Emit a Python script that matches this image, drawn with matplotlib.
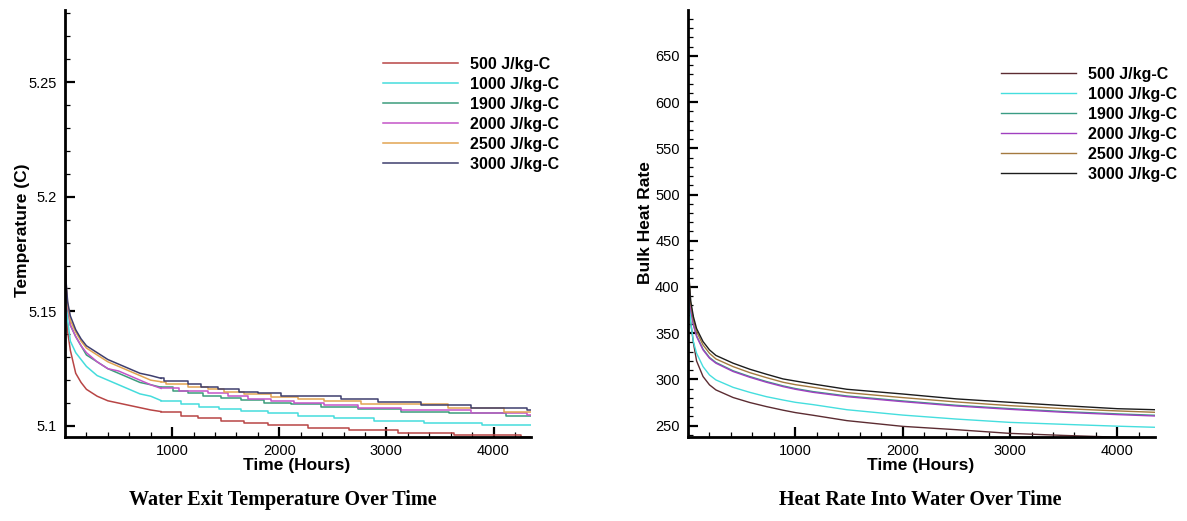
import matplotlib
matplotlib.use("Agg")
import matplotlib.pyplot as plt
from matplotlib.ticker import MultipleLocator, FixedLocator, FixedFormatter

# ---- left panel: water exit temperature (stepped output) ----
labels = ["500 J/kg-C", "1000 J/kg-C", "1900 J/kg-C", "2000 J/kg-C", "2500 J/kg-C", "3000 J/kg-C"]

early_hours = [0, 10, 25, 50, 100, 150, 200, 300, 400, 500, 600, 700, 800]

t500_early = [5.172, 5.154, 5.141, 5.133, 5.123, 5.119, 5.116, 5.113, 5.111, 5.110, 5.109, 5.108, 5.107]
t1000_early = [5.172, 5.157, 5.146, 5.137, 5.132, 5.129, 5.126, 5.122, 5.120, 5.118, 5.116, 5.114, 5.113]
t1900_early = [5.172, 5.161, 5.152, 5.144, 5.139, 5.135, 5.131, 5.128, 5.125, 5.123, 5.121, 5.119, 5.118]
t2000_early = [5.172, 5.161, 5.152, 5.144, 5.139, 5.135, 5.132, 5.128, 5.125, 5.124, 5.122, 5.120, 5.118]
t2500_early = [5.172, 5.162, 5.153, 5.146, 5.141, 5.137, 5.134, 5.131, 5.128, 5.126, 5.124, 5.122, 5.120]
t3000_early = [5.172, 5.163, 5.154, 5.148, 5.142, 5.138, 5.135, 5.132, 5.129, 5.127, 5.125, 5.123, 5.122]

# later steps: hour where the value changes, and the new value
h500_late = [897, 1084, 1239, 1457, 1675, 1892, 2265, 2654, 3104, 3633, 4255]
t500_late = [5.1063, 5.1044, 5.1034, 5.1022, 5.1012, 5.1004, 5.0993, 5.0983, 5.0971, 5.0961, 5.0950]
h1000_late = [897, 1084, 1255, 1441, 1643, 1892, 2172, 2514, 2887, 3353, 3897]
t1000_late = [5.1111, 5.1095, 5.1082, 5.1073, 5.1064, 5.1055, 5.1044, 5.1035, 5.1023, 5.1015, 5.1003]
h1900_late = [897, 1006, 1146, 1286, 1457, 1643, 1861, 2110, 2389, 2731, 3136, 3586, 4115]
t1900_late = [5.1169, 5.1153, 5.1143, 5.1132, 5.1124, 5.1113, 5.1102, 5.1095, 5.1084, 5.1073, 5.1062, 5.1055, 5.1044]
h2000_late = [897, 1068, 1333, 1519, 1706, 1923, 2141, 2421, 2731, 3136, 3788, 4317]
t2000_late = [5.1164, 5.1153, 5.1143, 5.1131, 5.1119, 5.1109, 5.1102, 5.1090, 5.1077, 5.1070, 5.1058, 5.1048]
h2500_late = [897, 944, 1146, 1333, 1488, 1675, 1923, 2172, 2421, 2763, 3571, 4099]
t2500_late = [5.1193, 5.1183, 5.1172, 5.1160, 5.1150, 5.1140, 5.1128, 5.1118, 5.1108, 5.1097, 5.1080, 5.1063]
h3000_late = [897, 928, 1146, 1270, 1426, 1628, 1799, 2016, 2576, 2918, 3322, 3788, 4317]
t3000_late = [5.1208, 5.1196, 5.1182, 5.1172, 5.1160, 5.1150, 5.1142, 5.1132, 5.1116, 5.1106, 5.1092, 5.1080, 5.1070]

end_hour = 4350

# ---- right panel: bulk heat rate (smooth) ----
hours_r = [0, 10, 25, 50, 80, 140, 200, 260, 420, 575, 730, 885, 1000, 1165, 1480, 2000, 2500, 3000, 3500, 4000, 4350]
q500 = [430, 385, 362, 340, 320, 303.2, 294.2, 288.7, 280.5, 275.1, 270.7, 266.8, 264.2, 261.3, 255.5, 249.3, 245.7, 241.7, 239.5, 237.6, 236.5]
q1000 = [430, 395, 362, 341, 328.3, 313.9, 304.9, 299.5, 291.5, 286.1, 281.4, 277.8, 275.3, 272.8, 267.3, 261.5, 257.2, 253.6, 251.5, 249.5, 248.3]
q1900 = [430, 405.5, 377, 360, 347.2, 332.8, 323.8, 318.4, 309.4, 303.2, 297.8, 293.1, 290.2, 286.9, 282.2, 276.8, 272.1, 268.5, 265.3, 262.8, 261.3]
q2000 = [430, 405, 376, 359, 346.4, 332, 323, 317.6, 308.6, 302.4, 297, 292.3, 289.4, 286.1, 281.4, 276, 271.3, 267.7, 264.5, 262, 260.5]
q2500 = [430, 408, 382, 364.5, 351.8, 337.3, 328.3, 322.2, 313.9, 307.4, 302, 297, 294.4, 291.5, 285.8, 280.4, 275.7, 271.7, 268.5, 266, 264.5]
q3000 = [430, 410, 385, 368, 355, 341, 332, 326, 317.6, 311.1, 305.7, 300.6, 298.3, 295.1, 289.4, 284.3, 279, 275.3, 271.7, 268.4, 267.3]

colors_left = ["#b84545", "#45dcdc", "#3c9c7c", "#c455c8", "#e2a452", "#3e3e6e"]
colors_right = ["#5c2c32", "#45dede", "#3a9c84", "#a040c0", "#a47a40", "#1c1c1c"]

plt.rcParams["font.family"] = ["Liberation Sans", "DejaVu Sans"]

fig = plt.figure(figsize=(11.87, 5.21), dpi=100)
ax1 = fig.add_axes([65 / 1187, 1 - 437 / 521, 466 / 1187, 427 / 521])
ax2 = fig.add_axes([688 / 1187, 1 - 437 / 521, 467 / 1187, 427 / 521])

left_series = [
    (t500_early, h500_late, t500_late),
    (t1000_early, h1000_late, t1000_late),
    (t1900_early, h1900_late, t1900_late),
    (t2000_early, h2000_late, t2000_late),
    (t2500_early, h2500_late, t2500_late),
    (t3000_early, h3000_late, t3000_late),
]
for (te, hl, tl), c, lab in zip(left_series, colors_left, labels):
    # dense early part drawn as a line, later plateaus as steps
    ax1.plot(early_hours + hl[:1], te + tl[:1], color=c, lw=1.1)
    ax1.plot(hl + [end_hour], tl + [tl[-1]], color=c, lw=1.1,
             drawstyle="steps-post", label=lab)

for q, c, lab in zip([q500, q1000, q1900, q2000, q2500, q3000], colors_right, labels):
    ax2.plot(hours_r, q, color=c, lw=1.0, label=lab)

ax1.set_xlim(0, 4350)
ax1.set_ylim(5.0952, 5.2815)
ax2.set_xlim(0, 4350)
ax2.set_ylim(237.8, 699.5)

for ax in (ax1, ax2):
    for s in ("top", "right"):
        ax.spines[s].set_visible(False)
    for s in ("left", "bottom"):
        ax.spines[s].set_linewidth(2.0)
    ax.xaxis.set_major_locator(FixedLocator([1000, 2000, 3000, 4000]))
    ax.xaxis.set_minor_locator(MultipleLocator(200))
    ax.tick_params(which="major", direction="in", length=7.5, width=1.6, labelsize=10.5, pad=5)
    ax.tick_params(which="minor", direction="in", length=3.8, width=0.9)
    ax.tick_params(axis="y", which="major", pad=6)
    ax.set_xlabel("Time (Hours)", fontsize=12.5, fontweight="bold")
    ax.xaxis.set_label_coords(0.498, -0.049)

ax1.yaxis.set_major_locator(FixedLocator([5.1, 5.15, 5.2, 5.25]))
ax1.yaxis.set_major_formatter(FixedFormatter(["5.1", "5.15", "5.2", "5.25"]))
ax1.yaxis.set_minor_locator(MultipleLocator(0.01))
ax2.yaxis.set_major_locator(MultipleLocator(50))
ax2.yaxis.set_minor_locator(MultipleLocator(10))

ax1.set_ylabel("Temperature (C)", fontsize=12.5, fontweight="bold")
ax1.yaxis.set_label_coords(-0.075, 0.485)
ax2.set_ylabel("Bulk Heat Rate", fontsize=12.5, fontweight="bold")
ax2.yaxis.set_label_coords(-0.075, 0.503)

leg_kw = dict(loc="upper left", frameon=False, borderpad=0, borderaxespad=0,
              handlelength=4.7, handletextpad=0.75, labelspacing=0.31,
              prop={"family": "Liberation Sans", "weight": "bold", "size": 11.5})
ax1.legend(bbox_to_anchor=(0.682, 0.890), **leg_kw)
ax2.legend(bbox_to_anchor=(0.670, 0.8665), **leg_kw)

title_kw = dict(ha="center", va="center", fontsize=14.5, fontweight="bold",
                family=["Liberation Serif", "DejaVu Serif"])
fig.text(283 / 1187, 1 - 500 / 521, "Water Exit Temperature Over Time", **title_kw)
fig.text(920 / 1187, 1 - 500 / 521, "Heat Rate Into Water Over Time", **title_kw)

fig.savefig("out.png", dpi=100)
